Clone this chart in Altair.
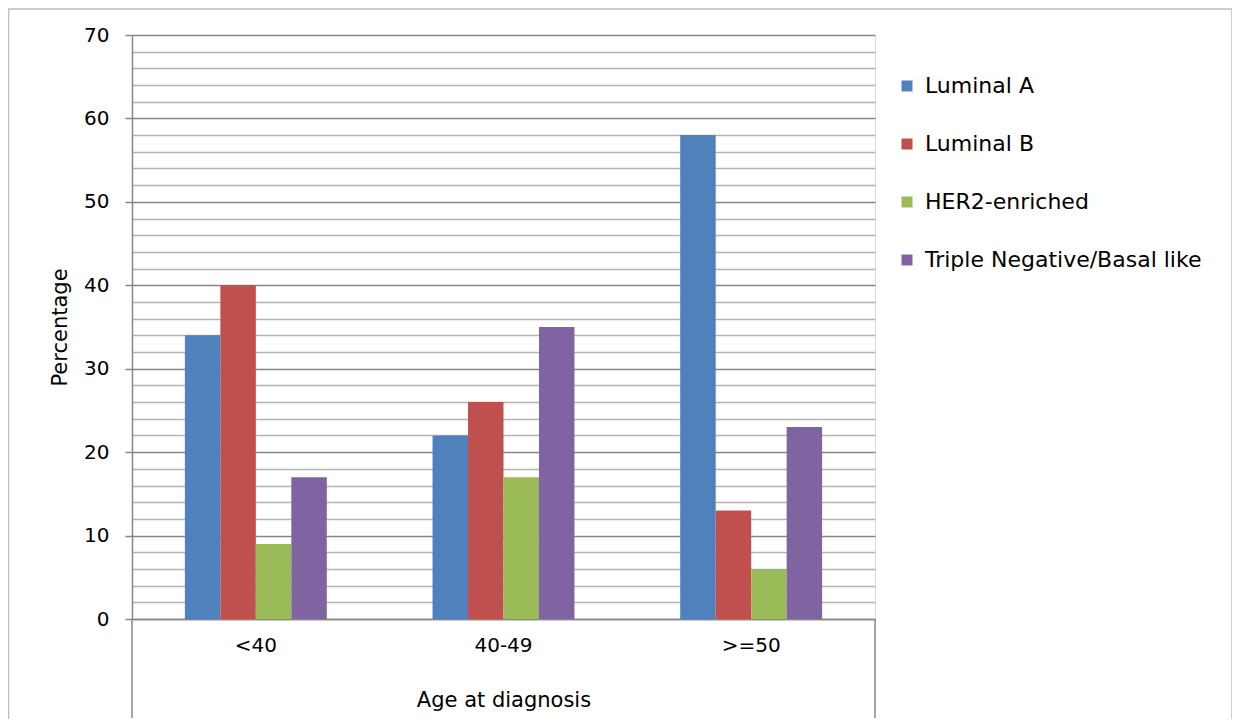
import altair as alt
import pandas as pd

ages = ["<40", "40-49", ">=50"]
subtypes = ["Luminal A", "Luminal B", "HER2-enriched", "Triple Negative/Basal like"]
luminal_a = [34, 22, 58]
luminal_b = [40, 26, 13]
her2 = [9, 17, 6]
triple_neg = [17, 35, 23]
colors = ["#4F81BD", "#C0504D", "#9BBB59", "#8064A2"]
y_ticks = list(range(0, 71, 2))

rows = []
for s, vals in zip(subtypes, [luminal_a, luminal_b, her2, triple_neg]):
    for a, v in zip(ages, vals):
        rows.append({"Age": a, "Subtype": s, "Percentage": v})
df = pd.DataFrame(rows)

W, H = 743, 584
FONT = "DejaVu Sans"
AXIS_GRAY = "#868686"
MAJOR = "datum.value % 10 === 0"

bars = alt.Chart(df).mark_bar().encode(
    x=alt.X(
        "Age:N", sort=ages,
        scale=alt.Scale(paddingInner=0.427, paddingOuter=0.2135),
        axis=alt.Axis(
            title="Age at diagnosis", labelAngle=0, ticks=False,
            labelPadding=16, titlePadding=34,
            domainColor=AXIS_GRAY, domainWidth=1.5,
            labelFontSize=20, titleFontSize=21,
            labelColor="#000", titleColor="#000",
            titleFontWeight="normal", grid=False,
        ),
    ),
    xOffset=alt.XOffset("Subtype:N", sort=subtypes,
                        scale=alt.Scale(paddingInner=0, paddingOuter=0)),
    y=alt.Y(
        "Percentage:Q",
        scale=alt.Scale(domain=[0, 70], nice=False, zero=True),
        axis=alt.Axis(
            title="Percentage", values=y_ticks,
            labelExpr="datum.value % 10 === 0 ? datum.label : ''",
            grid=True,
            gridColor={"condition": {"test": MAJOR, "value": AXIS_GRAY}, "value": "#b4b4b4"},
            gridWidth=1.3,
            tickColor={"condition": {"test": MAJOR, "value": AXIS_GRAY}, "value": "transparent"},
            tickSize=7, tickWidth=1.5,
            domainColor=AXIS_GRAY, domainWidth=1.5,
            labelPadding=16, titlePadding=13,
            labelFontSize=20, titleFontSize=21,
            labelColor="#000", titleColor="#000",
            titleFontWeight="normal",
        ),
    ),
    color=alt.Color(
        "Subtype:N", sort=subtypes,
        scale=alt.Scale(domain=subtypes, range=colors),
        legend=alt.Legend(
            title=None, orient="none", legendX=764, legendY=40,
            symbolType="square", symbolSize=121, symbolStrokeWidth=0,
            labelFontSize=22, labelColor="#000", labelOffset=7,
            labelLimit=400, rowPadding=36, padding=0,
        ),
    ),
)

one = pd.DataFrame({"k": [0]})
ext_left = alt.Chart(one).mark_rule(color=AXIS_GRAY, strokeWidth=1.5).encode(
    x=alt.value(0), y=alt.value(H), y2=alt.value(H + 99))
ext_right = alt.Chart(one).mark_rule(color=AXIS_GRAY, strokeWidth=1.5).encode(
    x=alt.value(W), y=alt.value(H), y2=alt.value(H + 99))
border = alt.Chart(one).mark_rect(fill="transparent", stroke="#bdbdbd", strokeWidth=1.5).encode(
    x=alt.value(-123.5), x2=alt.value(1100), y=alt.value(-26), y2=alt.value(H + 200))

chart = alt.layer(border, bars, ext_left, ext_right).properties(
    width=W, height=H,
    padding={"left": 124, "top": 27, "right": 357, "bottom": 100},
    autosize="none",
).configure_view(strokeWidth=0).configure(font=FONT)

chart.save("out.html", embed_options={"renderer": "svg", "actions": False})
